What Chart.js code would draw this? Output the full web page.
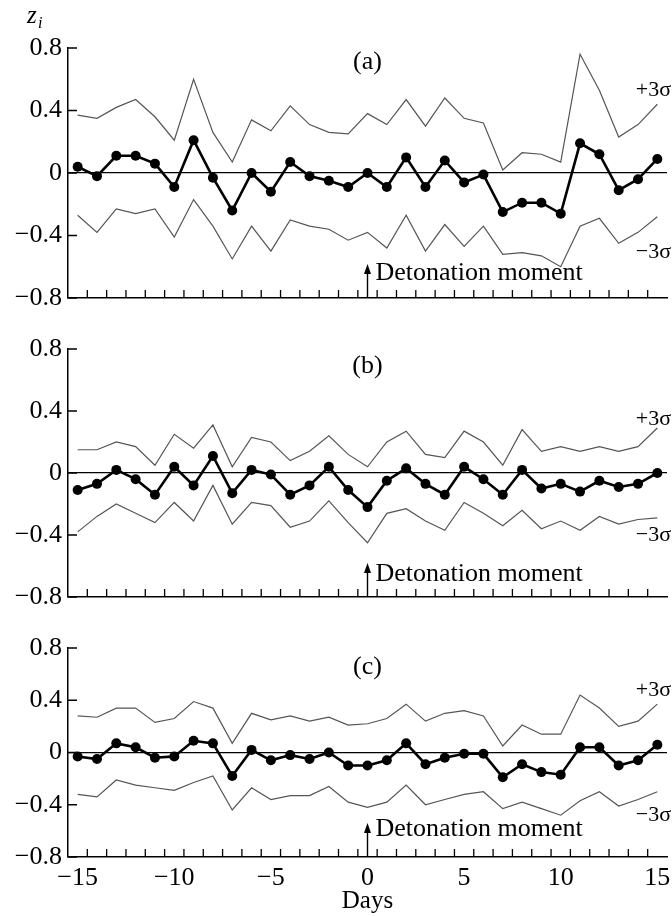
<!DOCTYPE html>
<html>
<head>
<meta charset="utf-8">
<script src="https://cdn.jsdelivr.net/npm/chart.js@4.4.1/dist/chart.umd.min.js"></script>
<style>
  body { margin: 0; background: #fff; width: 672px; height: 916px; position: relative; overflow: hidden; }
  canvas { position: absolute; left: 0; }
</style>
</head>
<body>
<canvas id="panelA" width="672" height="310" style="top:0px"></canvas>
<canvas id="panelB" width="672" height="300" style="top:310px"></canvas>
<canvas id="panelC" width="672" height="306" style="top:610px"></canvas>
<script>
// days relative to the detonation
const days = [-15, -14, -13, -12, -11, -10, -9, -8, -7, -6, -5, -4, -3, -2, -1, 0,
              1, 2, 3, 4, 5, 6, 7, 8, 9, 10, 11, 12, 13, 14, 15];
const yTickValues = [-0.8, -0.4, 0, 0.4, 0.8];
const xTickLabels = [-15, -10, -5, 0, 5, 10, 15];

// (a)
const aValues = [0.04, -0.02, 0.11, 0.11, 0.06, -0.09, 0.21, -0.03, -0.24, 0.00, -0.12, 0.07, -0.02, -0.05, -0.09, 0.00,
                 -0.09, 0.10, -0.09, 0.08, -0.06, -0.01, -0.25, -0.19, -0.19, -0.26, 0.19, 0.12, -0.11, -0.04, 0.09];
const aUpper = [0.37, 0.35, 0.42, 0.47, 0.36, 0.21, 0.60, 0.26, 0.07, 0.34, 0.27, 0.43, 0.31, 0.26, 0.25, 0.38,
                0.31, 0.47, 0.30, 0.48, 0.35, 0.32, 0.02, 0.13, 0.12, 0.07, 0.76, 0.53, 0.23, 0.31, 0.44];
const aLower = [-0.27, -0.38, -0.23, -0.26, -0.23, -0.41, -0.17, -0.34, -0.55, -0.34, -0.50, -0.30, -0.34, -0.36, -0.43, -0.38,
                -0.48, -0.27, -0.50, -0.33, -0.47, -0.34, -0.52, -0.51, -0.53, -0.60, -0.34, -0.29, -0.45, -0.38, -0.28];

// (b)
const bValues = [-0.11, -0.07, 0.02, -0.04, -0.14, 0.04, -0.08, 0.11, -0.13, 0.02, -0.01, -0.14, -0.08, 0.04, -0.11, -0.22,
                 -0.05, 0.03, -0.07, -0.14, 0.04, -0.04, -0.14, 0.02, -0.10, -0.07, -0.12, -0.05, -0.09, -0.07, 0.00];
const bUpper = [0.15, 0.15, 0.20, 0.17, 0.05, 0.25, 0.16, 0.31, 0.04, 0.23, 0.20, 0.08, 0.14, 0.24, 0.12, 0.04,
                0.20, 0.27, 0.12, 0.10, 0.27, 0.20, 0.05, 0.28, 0.14, 0.17, 0.14, 0.17, 0.14, 0.17, 0.29];
const bLower = [-0.38, -0.28, -0.20, -0.26, -0.32, -0.19, -0.31, -0.08, -0.33, -0.19, -0.21, -0.35, -0.31, -0.18, -0.32, -0.45,
                -0.26, -0.23, -0.31, -0.37, -0.19, -0.26, -0.34, -0.24, -0.36, -0.31, -0.37, -0.28, -0.33, -0.30, -0.29];

// (c)
const cValues = [-0.03, -0.05, 0.07, 0.04, -0.04, -0.03, 0.09, 0.07, -0.18, 0.02, -0.06, -0.02, -0.05, 0.00, -0.10, -0.10,
                 -0.06, 0.07, -0.09, -0.04, -0.01, -0.01, -0.19, -0.09, -0.15, -0.17, 0.04, 0.04, -0.10, -0.06, 0.06];
const cUpper = [0.28, 0.27, 0.34, 0.34, 0.23, 0.26, 0.39, 0.34, 0.07, 0.30, 0.25, 0.28, 0.24, 0.27, 0.21, 0.22,
                0.26, 0.37, 0.24, 0.30, 0.32, 0.28, 0.05, 0.21, 0.14, 0.14, 0.44, 0.34, 0.20, 0.24, 0.37];
const cLower = [-0.32, -0.34, -0.21, -0.25, -0.27, -0.29, -0.23, -0.18, -0.44, -0.27, -0.36, -0.33, -0.33, -0.26, -0.38, -0.42,
                -0.38, -0.25, -0.40, -0.36, -0.32, -0.30, -0.43, -0.38, -0.43, -0.48, -0.37, -0.30, -0.41, -0.36, -0.30];

const serif = '"Liberation Serif", "Times New Roman", serif';

function minus(v) {
    return v < 0 ? '\u2212' + Math.abs(v) : String(v);
}

// tick marks pointing inside, labels and the detonation arrow
const marksPlugin = {
    id: 'marks',
    afterDraw(chart, args, o) {
        const ctx = chart.ctx;
        const xs = chart.scales.x;
        const ys = chart.scales.y;
        const area = chart.chartArea;
        ctx.save();
        ctx.strokeStyle = '#000';
        ctx.lineWidth = 1.3;
        ctx.beginPath();
        for (let i = 1; i < days.length; i++) {
            const px = xs.getPixelForValue(days[i] - 0.5);
            ctx.moveTo(px, area.bottom);
            ctx.lineTo(px, area.bottom - 8);
        }
        yTickValues.forEach(function (v) {
            const py = ys.getPixelForValue(v);
            ctx.moveTo(area.left, py);
            ctx.lineTo(area.left + 9, py);
        });
        ctx.stroke();

        ctx.fillStyle = '#000';
        ctx.textBaseline = 'middle';
        ctx.font = '26px ' + serif;
        ctx.textAlign = 'center';
        ctx.fillText(o.letter, xs.getPixelForValue(0), ys.getPixelForValue(o.letterY));

        ctx.font = '22px ' + serif;
        ctx.textAlign = 'right';
        ctx.fillText('+3\u03c3', chart.width - 1, ys.getPixelForValue(o.plusY));
        ctx.fillText('\u22123\u03c3', chart.width - 1, ys.getPixelForValue(o.minusY));

        // arrow at day 0
        const x0 = xs.getPixelForValue(0);
        const tip = area.bottom - 34;
        ctx.lineWidth = 1.4;
        ctx.beginPath();
        ctx.moveTo(x0, area.bottom - 1);
        ctx.lineTo(x0, tip + 6);
        ctx.stroke();
        ctx.beginPath();
        ctx.moveTo(x0, tip);
        ctx.lineTo(x0 - 3.5, tip + 10);
        ctx.lineTo(x0 + 3.5, tip + 10);
        ctx.closePath();
        ctx.fill();
        ctx.font = '26px ' + serif;
        ctx.textAlign = 'left';
        ctx.fillText('Detonation moment', x0 + 8, ys.getPixelForValue(o.detY));

        if (o.axisName) {
            ctx.font = 'italic 25px ' + serif;
            ctx.textAlign = 'left';
            ctx.fillText('z', 27, 16);
            ctx.font = 'italic 16px ' + serif;
            ctx.fillText('i', 38, 24);
        }
        ctx.restore();
    }
};

function makePanel(id, values, upper, lower, cfg) {
    const pts = function (arr) {
        return days.map(function (d, i) { return { x: d, y: arr[i] }; });
    };
    return new Chart(document.getElementById(id), {
        type: 'line',
        data: {
            datasets: [
                {
                    data: pts(values),
                    borderColor: '#000',
                    borderWidth: 2.6,
                    pointRadius: 5,
                    pointBackgroundColor: '#000',
                    pointBorderWidth: 0,
                    tension: 0
                },
                {
                    data: pts(upper),
                    borderColor: '#555',
                    borderWidth: 1.2,
                    pointRadius: 0,
                    tension: 0
                },
                {
                    data: pts(lower),
                    borderColor: '#555',
                    borderWidth: 1.2,
                    pointRadius: 0,
                    tension: 0
                }
            ]
        },
        options: {
            responsive: false,
            animation: false,
            events: [],
            devicePixelRatio: 1,
            layout: { padding: { top: cfg.top, right: 2, left: 0, bottom: 0 } },
            plugins: {
                legend: { display: false },
                tooltip: { enabled: false },
                marks: cfg
            },
            scales: {
                x: {
                    type: 'linear',
                    min: -15.5,
                    max: 15.5,
                    afterBuildTicks: function (s) {
                        s.ticks = xTickLabels.map(function (v) { return { value: v }; });
                    },
                    afterFit: function (s) {
                        s.height = cfg.xHeight;
                        s.paddingLeft = 0;
                        s.paddingRight = 0;
                    },
                    grid: { display: false, drawTicks: false },
                    border: { display: true, color: '#000', width: 1.5 },
                    ticks: {
                        display: cfg.showX,
                        padding: 6,
                        color: '#000',
                        maxRotation: 0,
                        font: { family: serif, size: 26 },
                        callback: function (v) { return minus(v); }
                    },
                    title: {
                        display: cfg.showX,
                        text: 'Days',
                        color: '#000',
                        font: { family: serif, size: 25 },
                        padding: { top: 0, bottom: 0 }
                    }
                },
                y: {
                    min: -0.8,
                    max: 0.8,
                    afterBuildTicks: function (s) {
                        s.ticks = yTickValues.map(function (v) { return { value: v }; });
                    },
                    afterFit: function (s) {
                        s.width = 68;
                        s.paddingTop = 0;
                        s.paddingBottom = 0;
                    },
                    grid: {
                        drawTicks: false,
                        lineWidth: 1.2,
                        color: function (c) { return c.tick && c.tick.value === 0 ? '#000' : 'rgba(0,0,0,0)'; }
                    },
                    border: { display: true, color: '#000', width: 1.5 },
                    ticks: {
                        padding: 6,
                        color: '#000',
                        font: { family: serif, size: 26 },
                        callback: function (v) { return v === 0 ? '0' : minus(v.toFixed(1)); }
                    }
                }
            }
        },
        plugins: [marksPlugin]
    });
}

makePanel('panelA', aValues, aUpper, aLower,
    { top: 48, xHeight: 12, showX: false, letter: '(a)', letterY: 0.71, plusY: 0.53, minusY: -0.51, detY: -0.64, axisName: true });
makePanel('panelB', bValues, bUpper, bLower,
    { top: 39, xHeight: 13, showX: false, letter: '(b)', letterY: 0.69, plusY: 0.35, minusY: -0.40, detY: -0.65, axisName: false });
makePanel('panelC', cValues, cUpper, cLower,
    { top: 38, xHeight: 59, showX: true, letter: '(c)', letterY: 0.65, plusY: 0.48, minusY: -0.48, detY: -0.59, axisName: false });
</script>
</body>
</html>
